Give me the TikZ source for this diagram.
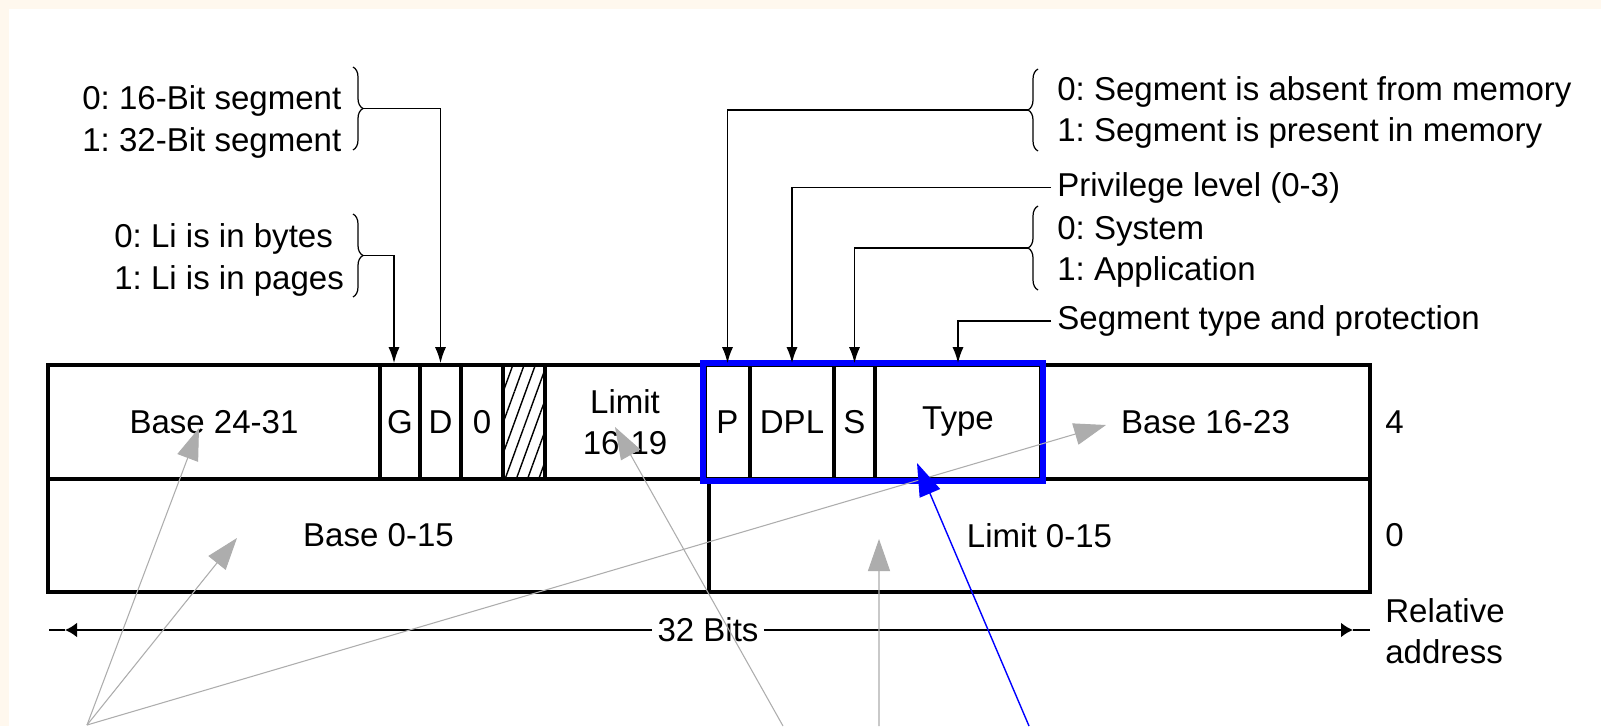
\documentclass[tikz,border=0pt]{standalone}
\usepackage{fontspec}
\setmainfont{Liberation Sans}
\usetikzlibrary{arrows.meta,decorations.pathreplacing,patterns.meta}
\definecolor{cream}{RGB}{255,248,238}
\definecolor{selblue}{RGB}{0,0,255}
\frenchspacing

\begin{document}
\begin{tikzpicture}[
font=\fontsize{18.8}{23.4}\selectfont,
cell/.style={draw=black,line width=2pt,inner sep=0pt,minimum height=2.28cm},
lowcell/.style={cell,minimum height=2.26cm,minimum width=13.22cm},
lbl/.style={inner sep=0.12cm,align=left,anchor=west},
feed/.style={line width=1pt,-{Latex[length=0.32cm,width=0.22cm]}},
brc/.style={line width=0.7pt,decorate,decoration={brace,amplitude=0.2cm}},
dim/.style={line width=1.3pt},
dimtip/.style={dim,-{Latex[length=0.24cm,width=0.3cm]}},
ptr/.style={black!32,line width=0.6pt,-{Triangle[length=0.64cm,width=0.44cm]}},
selptr/.style={selblue,line width=0.8pt,-{Triangle[length=0.66cm,width=0.44cm]}}
]
\useasboundingbox (0,0) rectangle (32.02,-14.52);
\fill[cream] (0,0) rectangle (32.02,-14.52);
\fill[white] (0.18,-0.18) rectangle (32.02,-14.52);

\node[cell,minimum width=6.64cm] (base2431) at (4.28,-8.44) {Base 24-31};
\node[cell,minimum width=0.8cm] (g) at (8.0,-8.44) {G};
\node[cell,minimum width=0.82cm] (d) at (8.81,-8.44) {D};
\node[cell,minimum width=0.84cm] (avl) at (9.64,-8.44) {0};
\node[cell,minimum width=0.84cm,pattern={Lines[angle=70,distance=6pt,line width=0.8pt]}] (rsv) at (10.48,-8.44) {};
\node[cell,minimum width=3.2cm,align=center] (lim1619) at (12.5,-8.44) {Limit\\16-19};
\node[cell,minimum width=0.9cm] (p) at (14.55,-8.44) {P};
\node[cell,minimum width=1.68cm] (dpl) at (15.84,-8.44) {DPL};
\node[cell,minimum width=0.82cm] (s) at (17.09,-8.44) {S};
\node[cell,minimum width=3.32cm] (type) at (19.16,-8.44) {Type};
\node[cell,minimum width=6.58cm] (base1623) at (24.11,-8.44) {Base 16-23};
\node[lowcell] (base015) at (7.57,-10.71) {Base 0-15};
\node[lowcell] (lim015) at (20.79,-10.71) {Limit 0-15};
\draw[selblue,line width=3.4pt] (p.north west) rectangle (type.south east);

\node[lbl] (seg) at (1.52,-2.44) {0: 16-Bit segment\\1: 32-Bit segment};
\node[lbl] (gran) at (2.16,-5.2) {0: Li is in bytes\\1: Li is in pages};
\node[lbl] (pres) at (21.02,-2.25) {0: Segment is absent from memory\\1: Segment is present in memory};
\node[lbl] (priv) at (21.02,-3.75) {Privilege level (0-3)};
\node[lbl] (sys) at (21.02,-5.03) {0: System\\1: Application};
\node[lbl] (typeprot) at (21.02,-6.42) {Segment type and protection};
\node[lbl] (row4) at (27.58,-8.44) {4};
\node[lbl] (row0) at (27.58,-10.71) {0};
\node[lbl] (reladdr) at (27.58,-12.62) {Relative\\address};
\node[inner sep=0.1cm] (bits) at (14.16,-12.6) {32 Bits};

\draw[brc] (7.06,-1.34) -- (7.06,-3.0);
\coordinate (segtip) at (7.26,-2.17);
\draw[brc] (7.06,-4.28) -- (7.06,-5.94);
\coordinate (grantip) at (7.26,-5.11);
\draw[brc] (20.76,-3.02) -- (20.76,-1.38);
\coordinate (prestip) at (20.56,-2.2);
\draw[brc] (20.76,-5.8) -- (20.76,-4.12);
\coordinate (systip) at (20.56,-4.96);

\draw[feed] (segtip) -| (d.north);
\draw[feed] (grantip) -| ([xshift=-0.12cm]g.north);
\draw[feed] (prestip) -| (p.north);
\draw[feed] (priv.west) -| (dpl.north);
\draw[feed] (systip) -| (s.north);
\draw[feed] (typeprot.west) -| (type.north);

\coordinate (lend) at (0.98,-12.6);
\coordinate (ltip) at (1.3,-12.6);
\coordinate (rtip) at (27.06,-12.6);
\coordinate (rend) at (27.4,-12.6);
\draw[dimtip] (bits.west) -- (ltip);
\draw[dim] (ltip) -- (lend);
\draw[dimtip] (bits.east) -- (rtip);
\draw[dim] (rtip) -- (rend);

\coordinate (src) at (1.74,-14.5);
\coordinate (srclim) at (15.66,-14.52);
\coordinate (srclim015) at (17.58,-14.52);
\coordinate (srctype) at (20.58,-14.52);
\draw[ptr] (src) -- ([shift={(-0.3,-0.12)}]base2431.center);
\draw[ptr] (src) -- ([shift={(-2.83,-0.05)}]base015.center);
\draw[ptr] (src) -- ([shift={(-1.99,-0.06)}]base1623.center);
\draw[ptr] (srclim) -- ([shift={(-0.2,-0.1)}]lim1619.center);
\draw[ptr] (srclim015) -- ([shift={(-3.21,-0.07)}]lim015.center);
\draw[selptr] (srctype) -- ([shift={(-0.82,-0.82)}]type.center);
\end{tikzpicture}
\end{document}
